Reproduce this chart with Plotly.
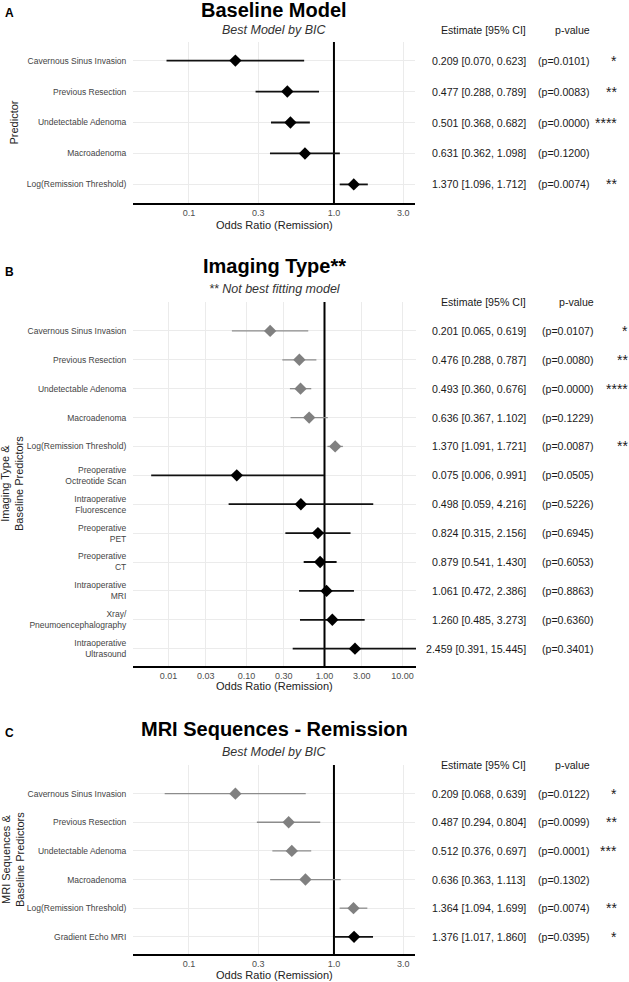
import plotly.graph_objects as go

FONT = "Liberation Sans, Arial, sans-serif"
W, H = 629, 982

# ---------------- data ----------------
A_LABELS = ["Cavernous Sinus Invasion", "Previous Resection", "Undetectable Adenoma",
            "Macroadenoma", "Log(Remission Threshold)"]
A_EST = [0.209, 0.477, 0.501, 0.631, 1.370]
A_LO = [0.070, 0.288, 0.368, 0.362, 1.096]
A_HI = [0.623, 0.789, 0.682, 1.098, 1.712]
A_P = [0.0101, 0.0083, 0.0000, 0.1200, 0.0074]
A_STARS = ["*", "**", "****", "", "**"]
A_GROUP = ["focus", "focus", "focus", "focus", "focus"]

B_LABELS = ["Cavernous Sinus Invasion", "Previous Resection", "Undetectable Adenoma",
            "Macroadenoma", "Log(Remission Threshold)",
            "Preoperative<br>Octreotide Scan", "Intraoperative<br>Fluorescence",
            "Preoperative<br>PET", "Preoperative<br>CT", "Intraoperative<br>MRI",
            "Xray/<br>Pneumoencephalography", "Intraoperative<br>Ultrasound"]
B_EST = [0.201, 0.476, 0.493, 0.636, 1.370, 0.075, 0.498, 0.824, 0.879, 1.061, 1.260, 2.459]
B_LO = [0.065, 0.288, 0.360, 0.367, 1.091, 0.006, 0.059, 0.315, 0.541, 0.472, 0.485, 0.391]
B_HI = [0.619, 0.787, 0.676, 1.102, 1.721, 0.991, 4.216, 2.156, 1.430, 2.386, 3.273, 15.445]
B_P = [0.0107, 0.0080, 0.0000, 0.1229, 0.0087, 0.0505, 0.5226, 0.6945, 0.6053, 0.8863, 0.6360, 0.3401]
B_STARS = ["*", "**", "****", "", "**", "", "", "", "", "", "", ""]
B_GROUP = ["base"] * 5 + ["focus"] * 7

C_LABELS = ["Cavernous Sinus Invasion", "Previous Resection", "Undetectable Adenoma",
            "Macroadenoma", "Log(Remission Threshold)", "Gradient Echo MRI"]
C_EST = [0.209, 0.487, 0.512, 0.636, 1.364, 1.376]
C_LO = [0.068, 0.294, 0.376, 0.363, 1.094, 1.017]
C_HI = [0.639, 0.804, 0.697, 1.113, 1.699, 1.860]
C_P = [0.0122, 0.0099, 0.0001, 0.1302, 0.0074, 0.0395]
C_STARS = ["*", "**", "***", "", "**", "*"]
C_GROUP = ["base"] * 5 + ["focus"]

A_TICKS = [0.1, 0.3, 1.0, 3.0]
A_TICKTEXT = ["0.1", "0.3", "1.0", "3.0"]
B_TICKS = [0.01, 0.03, 0.1, 0.3, 1.0, 3.0, 10.0]
B_TICKTEXT = ["0.01", "0.03", "0.10", "0.30", "1.00", "3.00", "10.00"]
C_TICKS = [0.1, 0.3, 1.0, 3.0]
C_TICKTEXT = ["0.1", "0.3", "1.0", "3.0"]
REF_OR = 1.0

# ---------------- layout (pixel geometry) ----------------
PANELS = [
    dict(letter="A", labels=A_LABELS, est=A_EST, lo=A_LO, hi=A_HI, p=A_P, stars=A_STARS, group=A_GROUP,
         ticks=A_TICKS, ticktext=A_TICKTEXT, title="Baseline Model", subtitle="Best Model by BIC",
         ytitle="Predictor", xdom=(133, 415), ydom=(42, 203), xr=(-1.386, 0.559), yr=(4.6, -0.6),
         title_y=10, sub_y=30, xtitle_y=225, letter_y=13, ytitle_x=14, est_x=528, p_x=592, star_x=619),
    dict(letter="B", labels=B_LABELS, est=B_EST, lo=B_LO, hi=B_HI, p=B_P, stars=B_STARS, group=B_GROUP,
         ticks=B_TICKS, ticktext=B_TICKTEXT, title="Imaging Type**", subtitle="** Not best fitting model",
         ytitle="Imaging Type &<br>Baseline Predictors", xdom=(133, 416), ydom=(302, 666),
         xr=(-2.455, 1.173), yr=(11.6, -1.0),
         title_y=266, sub_y=289, xtitle_y=686, letter_y=272, ytitle_x=12, est_x=528, p_x=596, star_x=630),
    dict(letter="C", labels=C_LABELS, est=C_EST, lo=C_LO, hi=C_HI, p=C_P, stars=C_STARS, group=C_GROUP,
         ticks=C_TICKS, ticktext=C_TICKTEXT, title="MRI Sequences - Remission", subtitle="Best Model by BIC",
         ytitle="MRI Sequences &<br>Baseline Predictors", xdom=(133, 415), ydom=(765, 954),
         xr=(-1.386, 0.559), yr=(5.6, -1.0),
         title_y=729, sub_y=752, xtitle_y=975, letter_y=733, ytitle_x=12.5, est_x=528, p_x=592, star_x=619),
]

STYLE = {
    "base": dict(marker="#808080", bar="#8c8c8c", thick=1.3, size=9.5),
    "focus": dict(marker="#000000", bar="#111111", thick=1.8, size=9.5),
}


def px(x):
    return x / W


def py(y):
    return 1 - y / H


def row_px(P, v):
    """pixel y of a category position v inside panel P"""
    top, bot = P["ydom"]
    r_top, r_bot = P["yr"][1], P["yr"][0]
    return top + (v - r_top) / (r_bot - r_top) * (bot - top)


fig = go.Figure()
annotations = []
layout_axes = {}

for k, P in enumerate(PANELS):
    sfx = "" if k == 0 else str(k + 1)
    xa, ya = "x" + sfx, "y" + sfx
    n = len(P["labels"])
    idx = list(range(n))

    # reference line at OR = 1 (drawn first, under the markers)
    fig.add_trace(go.Scatter(
        x=[REF_OR, REF_OR], y=[P["yr"][0], P["yr"][1]], mode="lines",
        line=dict(color="#000000", width=2), xaxis=xa, yaxis=ya,
        showlegend=False, hoverinfo="skip", cliponaxis=True,
    ))

    for g in ["base", "focus"]:
        sel = [i for i in idx if P["group"][i] == g]
        if not sel:
            continue
        st = STYLE[g]
        fig.add_trace(go.Scatter(
            x=[P["est"][i] for i in sel],
            y=[i for i in sel],
            mode="markers",
            marker=dict(symbol="diamond", size=st["size"], color=st["marker"], line=dict(width=0)),
            error_x=dict(type="data", symmetric=False,
                         array=[P["hi"][i] - P["est"][i] for i in sel],
                         arrayminus=[P["est"][i] - P["lo"][i] for i in sel],
                         width=0, thickness=st["thick"], color=st["bar"]),
            xaxis=xa, yaxis=ya, showlegend=False, hoverinfo="skip",
        ))

    layout_axes["xaxis" + sfx] = dict(
        type="log", domain=[px(P["xdom"][0]), px(P["xdom"][1])], range=list(P["xr"]),
        anchor=ya, tickvals=P["ticks"], ticktext=P["ticktext"],
        showgrid=True, gridcolor="#ebebeb", gridwidth=1, zeroline=False,
        showline=True, linecolor="#000000", linewidth=1.5,
        ticks="",
        tickfont=dict(family=FONT, size=9, color="#4d4d4d"),
    )
    layout_axes["yaxis" + sfx] = dict(
        domain=[py(P["ydom"][1]), py(P["ydom"][0])], range=list(P["yr"]),
        anchor=xa, tickvals=idx, ticktext=P["labels"],
        showgrid=True, gridcolor="#ebebeb", gridwidth=1, zeroline=False, showline=False,
        ticks="outside", ticklen=4, tickcolor="rgba(0,0,0,0)",
        tickfont=dict(family=FONT, size=8.5, color="#444444"),
    )

    cx = px((P["xdom"][0] + P["xdom"][1]) / 2)
    head_y = py(row_px(P, -1))
    annotations += [
        dict(text="<b>%s</b>" % P["letter"], x=px(3), y=py(P["letter_y"]), xref="paper", yref="paper",
             xanchor="left", yanchor="middle", showarrow=False, font=dict(family=FONT, size=12, color="#000")),
        dict(text="<b>%s</b>" % P["title"], x=cx, y=py(P["title_y"]), xref="paper", yref="paper",
             xanchor="center", yanchor="middle", showarrow=False, font=dict(family=FONT, size=20, color="#000")),
        dict(text="<i>%s</i>" % P["subtitle"], x=cx, y=py(P["sub_y"]), xref="paper", yref="paper",
             xanchor="center", yanchor="middle", showarrow=False, font=dict(family=FONT, size=12.5, color="#333")),
        dict(text="Odds Ratio (Remission)", x=cx, y=py(P["xtitle_y"]), xref="paper", yref="paper",
             xanchor="center", yanchor="middle", showarrow=False, font=dict(family=FONT, size=11, color="#222")),
        dict(text=P["ytitle"], x=px(P["ytitle_x"]),
             y=py((P["ydom"][0] + P["ydom"][1]) / 2), xref="paper", yref="paper", textangle=-90,
             xanchor="center", yanchor="middle", showarrow=False, font=dict(family=FONT, size=11, color="#222")),
        dict(text="Estimate [95% CI]", x=px(P["est_x"]), y=head_y, xref="paper", yref="paper",
             xanchor="right", yanchor="middle", showarrow=False, font=dict(family=FONT, size=10.6, color="#1a1a1a")),
        dict(text="p-value", x=px(P["p_x"]), y=head_y, xref="paper", yref="paper",
             xanchor="right", yanchor="middle", showarrow=False, font=dict(family=FONT, size=10.6, color="#1a1a1a")),
    ]
    for i in idx:
        annotations.append(dict(
            text="%.3f [%.3f, %.3f]" % (P["est"][i], P["lo"][i], P["hi"][i]),
            x=px(P["est_x"]), y=i, xref="paper", yref=ya, xanchor="right", yanchor="middle",
            showarrow=False, font=dict(family=FONT, size=10.6, color="#1a1a1a")))
        annotations.append(dict(
            text="(p=%.4f)" % P["p"][i],
            x=px(P["p_x"]), y=i, xref="paper", yref=ya, xanchor="right", yanchor="middle",
            showarrow=False, font=dict(family=FONT, size=10.6, color="#1a1a1a")))
        if P["stars"][i]:
            annotations.append(dict(
                text=P["stars"][i], x=px(P["star_x"]), y=i, xref="paper", yref=ya,
                xanchor="right", yanchor="middle", showarrow=False,
                font=dict(family=FONT, size=14, color="#1a1a1a")))

fig.update_layout(
    width=W, height=H, margin=dict(l=0, r=0, t=0, b=0),
    paper_bgcolor="#ffffff", plot_bgcolor="#ffffff",
    font=dict(family=FONT),
    annotations=annotations, showlegend=False,
    **layout_axes,
)

fig.write_html("out.html", config={"displayModeBar": False},
               post_script="document.body.style.margin='0';")
